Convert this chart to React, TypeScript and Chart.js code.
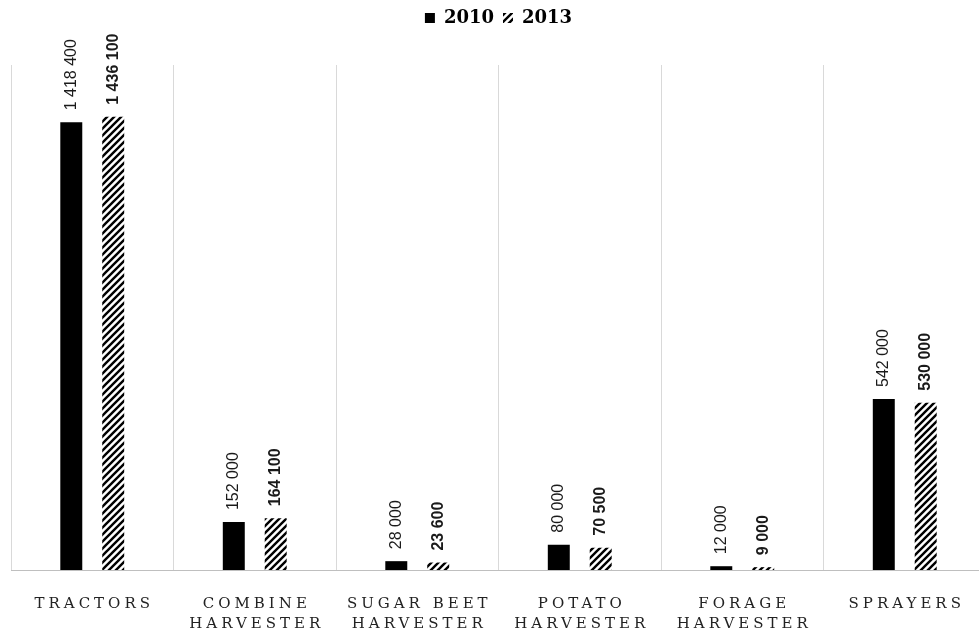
import React, { useEffect, useRef } from "react";
import { Chart, registerables } from "chart.js";

Chart.register(...registerables);

const categories: string[][] = [
  ["TRACTORS"],
  ["COMBINE", "HARVESTER"],
  ["SUGAR BEET", "HARVESTER"],
  ["POTATO", "HARVESTER"],
  ["FORAGE", "HARVESTER"],
  ["SPRAYERS"],
];
const seriesNames = ["2010", "2013"];
const values2010 = [1418400, 152000, 28000, 80000, 12000, 542000];
const values2013 = [1436100, 164100, 23600, 70500, 9000, 530000];
const yMax = 1600000;

function fmt(v: number): string {
  return String(v).replace(/\B(?=(\d{3})+(?!\d))/g, " ");
}

function makeHatch(): CanvasPattern | string {
  const s = 7;
  const c = document.createElement("canvas");
  c.width = s;
  c.height = s;
  const g = c.getContext("2d");
  if (!g) return "#000";
  g.strokeStyle = "#000";
  g.lineWidth = 2.4;
  g.lineCap = "square";
  g.beginPath();
  g.moveTo(-1, 1);
  g.lineTo(1, -1);
  g.moveTo(0, s);
  g.lineTo(s, 0);
  g.moveTo(s - 1, s + 1);
  g.lineTo(s + 1, s - 1);
  g.stroke();
  const ctx = document.createElement("canvas").getContext("2d");
  const p = ctx ? ctx.createPattern(c, "repeat") : null;
  return p || "#000";
}

const legendSpacer = {
  id: "legendSpacer",
  afterInit(chart: any) {
    const lg = chart.legend;
    if (lg) {
      const orig = lg.fit;
      lg.fit = function () {
        orig.call(this);
        this.height = 65;
      };
    }
  },
};

const valueLabelPlugin = {
  id: "valueLabels",
  afterDatasetsDraw(chart: any) {
    const ctx = chart.ctx as CanvasRenderingContext2D;
    chart.data.datasets.forEach((ds: any, di: number) => {
      const meta = chart.getDatasetMeta(di);
      meta.data.forEach((bar: any, i: number) => {
        const v = ds.data[i] as number;
        ctx.save();
        ctx.translate(bar.x, bar.y - 12);
        ctx.rotate(-Math.PI / 2);
        ctx.font = (di === 1 ? "bold " : "") + "16px 'Liberation Sans'";
        ctx.fillStyle = "#1a1a1a";
        ctx.textAlign = "left";
        ctx.textBaseline = "middle";
        ctx.fillText(fmt(v), 0, 0);
        ctx.restore();
      });
    });
  },
};

const xLabelPlugin = {
  id: "xLabels",
  afterDraw(chart: any) {
    const ctx = chart.ctx as CanvasRenderingContext2D;
    const xs = chart.scales.x;
    const spacing = 4;
    ctx.save();
    ctx.font = "15px 'DejaVu Serif'";
    ctx.fillStyle = "#222";
    ctx.textAlign = "center";
    ctx.textBaseline = "alphabetic";
    (ctx as any).letterSpacing = spacing + "px";
    categories.forEach((lines, i) => {
      const x = xs.getPixelForValue(i) + spacing / 2;
      lines.forEach((line, li) => {
        ctx.fillText(line, x, 608 + li * 20);
      });
    });
    ctx.restore();
  },
};

export default function App() {
  const ref = useRef<HTMLCanvasElement | null>(null);
  useEffect(() => {
    if (!ref.current) return;
    const hatch = makeHatch();
    const chart = new Chart(ref.current, {
      type: "bar",
      data: {
        labels: categories,
        datasets: [
          {
            label: seriesNames[0],
            data: values2010,
            backgroundColor: "#000",
            borderWidth: 0,
            categoryPercentage: 0.516,
            barPercentage: 0.524,
          },
          {
            label: seriesNames[1],
            data: values2013,
            backgroundColor: hatch as any,
            borderWidth: 0,
            categoryPercentage: 0.516,
            barPercentage: 0.524,
          },
        ],
      },
      options: {
        responsive: false,
        animation: false,
        layout: { padding: { left: 11, right: 14, top: 0, bottom: 60 } },
        plugins: {
          legend: {
            display: true,
            position: "top",
            labels: {
              boxWidth: 10,
              boxHeight: 10,
              padding: 9,
              color: "#000",
              font: { family: "'DejaVu Serif'", size: 18, weight: "bold" },
            },
          },
          tooltip: { enabled: false },
        },
        scales: {
          x: {
            grid: {
              offset: true,
              color: "#d9d9d9",
              drawTicks: false,
            },
            border: { color: "#bfbfbf" },
            ticks: { display: false },
          },
          y: {
            display: false,
            min: 0,
            max: yMax,
          },
        },
      },
      plugins: [legendSpacer, valueLabelPlugin, xLabelPlugin],
    });
    return () => chart.destroy();
  }, []);
  return (
    <div
      style={{
        position: "fixed",
        left: 0,
        top: 0,
        width: 979,
        height: 630,
        overflow: "hidden",
        background: "#fff",
      }}
    >
      <canvas ref={ref} width={1000} height={630} style={{ display: "block" }} />
    </div>
  );
}
